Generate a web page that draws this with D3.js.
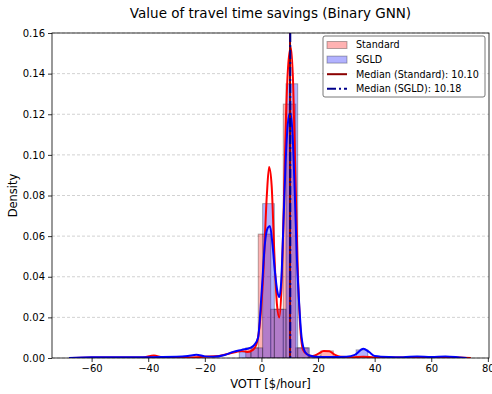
<!DOCTYPE html>
<html>
<head>
<meta charset="utf-8">
<script src="https://cdn.jsdelivr.net/npm/d3@7"></script>
<style>
  body { margin: 0; background: #fff; }
  svg { font-family: "DejaVu Sans", sans-serif; }
</style>
</head>
<body>
<div id="chart"></div>
<script>
// histogram bins (edges) and densities
const stdEdges = [-5.55, -1.13, 3.29, 7.71, 12.13, 16.55, 20.97, 25.39];
const stdDensity = [0.005, 0.061, 0.024, 0.125, 0.005, 0.001, 0.0035];
const sgldEdges = [-7.84, -3.71, 0.42, 4.55, 8.68, 12.81, 16.94, 21.07, 25.2, 29.33, 33.46, 37.59];
const sgldDensity = [0.003, 0.005, 0.076, 0.024, 0.135, 0.005, 0.0008, 0.0005, 0.0005, 0.0006, 0.004];

// KDE curves
const stdKdeX = [-67, -60, -50, -42, -38, -35, -30, -25, -20, -15, -12, -9, -7, -5, -3, -1.5, -0.5, 0.6, 1.9, 2.7, 3.6, 4.6, 5.5, 6.3, 7.1, 7.9, 8.7, 9.5, 10.4, 11.2, 12.0, 12.8, 13.6, 14.7, 16, 18, 20, 22, 24, 26, 28, 32, 36, 40, 50, 60, 70, 74];
const stdKdeY = [0, 0.0003, 0.0002, 0.0003, 0.0012, 0.0004, 0.0002, 0.0003, 0.0006, 0.001, 0.002, 0.003, 0.0035, 0.003, 0.004, 0.008, 0.018, 0.04, 0.08, 0.094, 0.085, 0.05, 0.026, 0.02, 0.035, 0.075, 0.12, 0.145, 0.153, 0.135, 0.09, 0.045, 0.018, 0.004, 0.002, 0.001, 0.002, 0.0035, 0.0033, 0.0015, 0.0006, 0.0004, 0.0006, 0.0003, 0.0002, 0.0003, 0.0002, 0];
const sgldKdeX = [-68, -60, -50, -40, -30, -26, -23, -20, -17, -13, -10, -7, -4, -2.5, -1.2, 0.1, 1.2, 2.2, 3.0, 3.9, 4.8, 5.6, 6.3, 7.0, 7.7, 8.5, 9.3, 10.2, 11.0, 11.8, 12.5, 13.2, 14.2, 15.4, 17, 20, 25, 30, 33, 36, 38, 40, 45, 50, 55, 60, 65, 70, 72.5];
const sgldKdeY = [0, 0.0004, 0.0004, 0.0004, 0.0006, 0.001, 0.0016, 0.0008, 0.0006, 0.0015, 0.003, 0.004, 0.005, 0.0065, 0.01, 0.033, 0.056, 0.064, 0.065, 0.056, 0.042, 0.033, 0.03, 0.038, 0.063, 0.095, 0.115, 0.121, 0.11, 0.08, 0.05, 0.03, 0.01, 0.003, 0.0012, 0.0005, 0.0005, 0.0006, 0.0015, 0.0045, 0.003, 0.001, 0.0005, 0.0004, 0.0008, 0.0005, 0.0008, 0.0003, 0];

const medianStd = 10.10;
const medianSgld = 10.18;
const xTicks = [-60, -40, -20, 0, 20, 40, 60, 80];
const yTicks = [0, 0.02, 0.04, 0.06, 0.08, 0.10, 0.12, 0.14, 0.16];

const width = 492;
const height = 394;
const margin = { top: 33, right: 3, bottom: 36, left: 52 };
const innerW = width - margin.left - margin.right;
const innerH = height - margin.top - margin.bottom;

const svg = d3.select("#chart")
  .append("svg")
  .attr("width", width)
  .attr("height", height);

const x = d3.scaleLinear().domain([-74, 80.4]).range([0, innerW]);
const y = d3.scaleLinear().domain([0, 0.16]).range([innerH, 0]);

const g = svg.append("g")
  .attr("transform", "translate(" + margin.left + "," + margin.top + ")");

g.append("defs").append("clipPath").attr("id", "clip")
  .append("rect").attr("width", innerW).attr("height", innerH);

// grid
g.selectAll(".grid")
  .data(yTicks)
  .enter()
  .append("line")
  .attr("x1", 0).attr("x2", innerW)
  .attr("y1", d => y(d)).attr("y2", d => y(d))
  .attr("stroke", "#b0b0b0")
  .attr("stroke-width", 0.8)
  .attr("stroke-dasharray", "3,2")
  .attr("opacity", 0.7);

const plot = g.append("g").attr("clip-path", "url(#clip)");

function drawHist(edges, dens, color) {
  plot.selectAll(null)
    .data(dens)
    .enter()
    .append("rect")
    .attr("x", (d, i) => x(edges[i]))
    .attr("width", (d, i) => x(edges[i + 1]) - x(edges[i]))
    .attr("y", d => y(d))
    .attr("height", d => innerH - y(d))
    .attr("fill", color)
    .attr("fill-opacity", 0.3)
    .attr("stroke", "#000")
    .attr("stroke-opacity", 0.3)
    .attr("stroke-width", 1);
}

drawHist(stdEdges, stdDensity, "red");
drawHist(sgldEdges, sgldDensity, "blue");

const line = d3.line()
  .x(d => x(d[0]))
  .y(d => y(d[1]))
  .curve(d3.curveMonotoneX);

plot.append("path")
  .attr("d", line(stdKdeX.map((v, i) => [v, stdKdeY[i]])))
  .attr("fill", "none")
  .attr("stroke", "red")
  .attr("stroke-width", 2);

plot.append("path")
  .attr("d", line(sgldKdeX.map((v, i) => [v, sgldKdeY[i]])))
  .attr("fill", "none")
  .attr("stroke", "blue")
  .attr("stroke-width", 2);

// medians
plot.append("line")
  .attr("x1", x(medianStd)).attr("x2", x(medianStd))
  .attr("y1", 0).attr("y2", innerH)
  .attr("stroke", "darkred")
  .attr("stroke-width", 2);

plot.append("line")
  .attr("x1", x(medianSgld)).attr("x2", x(medianSgld))
  .attr("y1", 0).attr("y2", innerH)
  .attr("stroke", "darkblue")
  .attr("stroke-width", 2)
  .attr("stroke-dasharray", "9,3,2,3");

// axes
const xAxis = g.append("g")
  .attr("transform", "translate(0," + innerH + ")")
  .call(d3.axisBottom(x).tickValues(xTicks).tickSize(4).tickPadding(3)
    .tickFormat(d => d < 0 ? "\u2212" + Math.abs(d) : d));
const yAxis = g.append("g")
  .call(d3.axisLeft(y).tickValues(yTicks).tickSize(4).tickPadding(3)
    .tickFormat(d3.format(".2f")));

[xAxis, yAxis].forEach(a => {
  a.select(".domain").remove();
  a.selectAll("text").attr("font-size", 10).attr("fill", "#000")
    .attr("font-family", "DejaVu Sans, sans-serif");
  a.selectAll("line").attr("stroke", "#000").attr("stroke-width", 0.8);
});

// spines
g.append("rect")
  .attr("width", innerW)
  .attr("height", innerH)
  .attr("fill", "none")
  .attr("stroke", "#000")
  .attr("stroke-width", 0.8);

// labels
svg.append("text")
  .attr("x", margin.left + innerW / 2)
  .attr("y", 18)
  .attr("text-anchor", "middle")
  .attr("font-size", 13.5)
  .text("Value of travel time savings (Binary GNN)");

svg.append("text")
  .attr("x", margin.left + innerW / 2)
  .attr("y", 388)
  .attr("text-anchor", "middle")
  .attr("font-size", 11.5)
  .text("VOTT [$/hour]");

svg.append("text")
  .attr("transform", "translate(17," + (margin.top + innerH / 2) + ") rotate(-90)")
  .attr("text-anchor", "middle")
  .attr("font-size", 11.5)
  .text("Density");

// legend
const legendItems = [
  { label: "Standard", type: "patch", color: "red" },
  { label: "SGLD", type: "patch", color: "blue" },
  { label: "Median (Standard): 10.10", type: "line", color: "darkred", dash: null },
  { label: "Median (SGLD): 10.18", type: "line", color: "darkblue", dash: "9,3,2,3" }
];

const legend = svg.append("g").attr("transform", "translate(323,36)");
legend.append("rect")
  .attr("width", 162)
  .attr("height", 61)
  .attr("rx", 2)
  .attr("fill", "#fff")
  .attr("fill-opacity", 0.8)
  .attr("stroke", "#555")
  .attr("stroke-width", 0.8);

const rows = legend.selectAll(".legend")
  .data(legendItems)
  .enter()
  .append("g")
  .attr("class", "legend")
  .attr("transform", (d, i) => "translate(4," + (9 + i * 14.6) + ")");

rows.filter(d => d.type === "patch")
  .append("rect")
  .attr("x", 0).attr("y", -3.5)
  .attr("width", 20).attr("height", 7)
  .attr("fill", d => d.color)
  .attr("fill-opacity", 0.3)
  .attr("stroke", "#000")
  .attr("stroke-opacity", 0.3);

rows.filter(d => d.type === "line")
  .append("line")
  .attr("x1", 0).attr("x2", 20)
  .attr("stroke", d => d.color)
  .attr("stroke-width", 2)
  .attr("stroke-dasharray", d => d.dash);

rows.append("text")
  .attr("x", 29)
  .attr("y", 0)
  .attr("dy", "0.35em")
  .attr("font-size", 9.6)
  .text(d => d.label);
</script>
</body>
</html>
